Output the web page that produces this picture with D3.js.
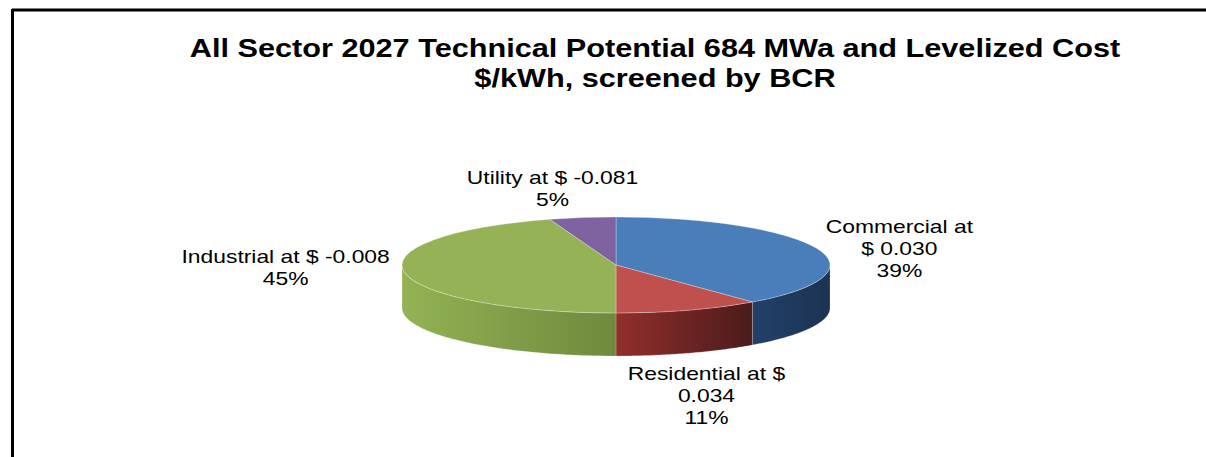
<!DOCTYPE html>
<html>
<head>
<meta charset="utf-8">
<script src="https://cdn.jsdelivr.net/npm/d3@7"></script>
<style>
  html, body { margin: 0; padding: 0; background: #fff; }
  svg { display: block; font-family: "Liberation Sans", Arial, sans-serif; }
</style>
</head>
<body>
<svg width="1206" height="457"></svg>
<script>
/* 3D pie: all sector technical potential by sector */

// chart values
const titleLines = ["All Sector 2027 Technical Potential 684 MWa and Levelized Cost", "$/kWh, screened by BCR"];
const categories = ["Commercial", "Residential", "Industrial", "Utility"];
const shares = [39, 11, 45, 5];
const costs = ["0.030", "0.034", "-0.008", "-0.081"];
// how the labels wrap in the original
const labelLines = [
  ["Commercial at", "$ 0.030", "39%"],
  ["Residential at $", "0.034", "11%"],
  ["Industrial at $ -0.008", "45%"],
  ["Utility at $ -0.081", "5%"]
];

// colours
const topColors = ["#4a7ebb", "#c0504d", "#95b356", "#7f62a0"];
const sideColors = [["#22406a", "#1c3352"], ["#922f2c", "#4a1b1b"], ["#93b354", "#6e8a3d"], ["#5e4880", "#3e2f55"]];

var svg = d3.select("svg"),
    width = +svg.attr("width"),
    height = +svg.attr("height");

// frame (only top and left edges are visible)
svg.append("line").attr("x1", 12).attr("y1", 10).attr("x2", width).attr("y2", 10)
    .attr("stroke", "#000").attr("stroke-width", 3);
svg.append("line").attr("x1", 12.5).attr("y1", 9).attr("x2", 12.5).attr("y2", height)
    .attr("stroke", "#000").attr("stroke-width", 3);

// text is horizontally stretched in the original
function stretchedText(x, y, str, size, weight, sx) {
  svg.append("text")
      .attr("transform", "translate(" + x + "," + y + ") scale(" + sx + ",1)")
      .attr("text-anchor", "middle")
      .attr("font-size", size)
      .attr("font-weight", weight)
      .attr("fill", "#000")
      .text(str);
}

// title
stretchedText(655, 57, titleLines[0], 26, "bold", 1.18);
stretchedText(655, 87, titleLines[1], 26, "bold", 1.18);

// pie geometry
const cx = 616, cy = 265, rx = 214, ry = 48, depth = 43;

var pie = d3.pie().sort(null).value(d => d).startAngle(0).endAngle(2 * Math.PI);
var arcs = pie(shares);

function px(a) { return cx + rx * Math.sin(a); }
function py(a) { return cy - ry * Math.cos(a); }

var defs = svg.append("defs");
sideColors.forEach(function(c, i) {
  var g = defs.append("linearGradient").attr("id", "side" + i)
      .attr("x1", 0).attr("x2", 1).attr("y1", 0).attr("y2", 0);
  g.append("stop").attr("offset", "0%").attr("stop-color", c[0]);
  g.append("stop").attr("offset", "100%").attr("stop-color", c[1]);
});

// side walls, only the front half is visible
var line = d3.line();
arcs.forEach(function(d, i) {
  var a0 = Math.max(d.startAngle, Math.PI / 2),
      a1 = Math.min(d.endAngle, 3 * Math.PI / 2);
  if (a0 >= a1) return;
  var steps = d3.range(0, 1.0001, 1 / 60).map(t => a0 + (a1 - a0) * t);
  var pts = steps.map(a => [px(a), py(a)])
      .concat(steps.slice().reverse().map(a => [px(a), py(a) + depth]));
  svg.append("path")
      .attr("d", line(pts) + "Z")
      .attr("fill", "url(#side" + i + ")")
      .attr("stroke", "rgba(255,255,255,0.25)")
      .attr("stroke-width", 0.8);
});

// top faces
var arc = d3.arc().innerRadius(0).outerRadius(rx);
var topFace = svg.append("g")
    .attr("transform", "translate(" + cx + "," + cy + ") scale(1," + (ry / rx) + ")");
topFace.selectAll("path")
    .data(arcs)
  .enter().append("path")
    .attr("d", arc)
    .attr("fill", (d, i) => topColors[i])
    .attr("stroke", "rgba(255,255,255,0.35)")
    .attr("stroke-width", 0.8)
    .attr("vector-effect", "non-scaling-stroke");

// data labels, placed from each slice's mid angle on the rim
const labelNudge = [[82, -16], [18, 70], [-119, -10], [-30, -34]];
const lineGap = 22;
arcs.forEach(function(d, i) {
  var mid = (d.startAngle + d.endAngle) / 2;
  var x = px(mid) + labelNudge[i][0],
      y = py(mid) + labelNudge[i][1];
  labelLines[i].forEach(function(s, j) {
    stretchedText(x, y + j * lineGap, s, 18, "normal", 1.27);
  });
});
</script>
</body>
</html>
